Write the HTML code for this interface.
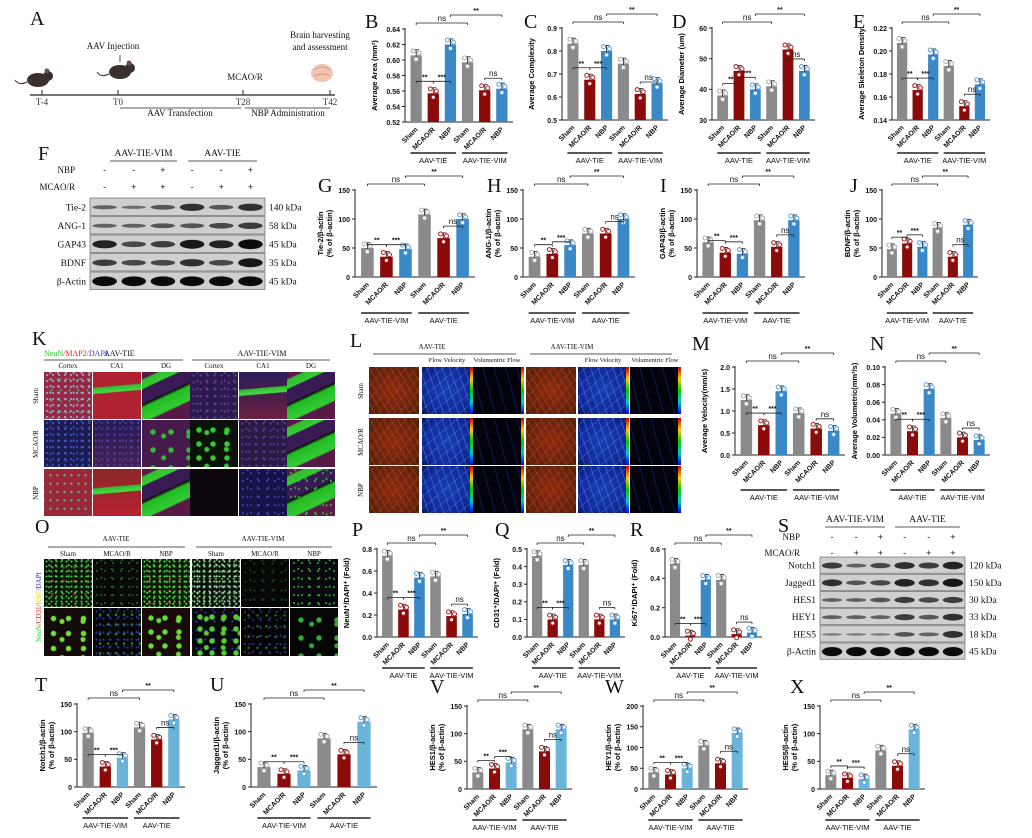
<!DOCTYPE html>
<html><head><meta charset="utf-8">
<style>
html,body{margin:0;padding:0;background:#fff;}
#w{position:relative;width:1032px;height:838px;overflow:hidden;background:#fff;font-family:"Liberation Sans",sans-serif;}
.im{position:absolute;box-sizing:border-box;}
svg{position:absolute;left:0;top:0;}
</style></head><body><div id="w"></div>
<script>
const W=document.getElementById('w');
function div(x,y,w,h,bg){const d=document.createElement('div');d.className='im';d.style.cssText=`left:${x}px;top:${y}px;width:${w}px;height:${h}px;background:${bg};`;W.appendChild(d);}
const dots=(c,s)=>`radial-gradient(circle,${c} 0.7px,transparent 1.3px) 0 0/${s}px ${s}px,radial-gradient(circle,${c} 0.7px,transparent 1.3px) ${s*0.4}px ${s*0.7}px/${s*1.3}px ${s*1.1}px`;
const dots2=(c,s)=>`radial-gradient(circle,${c} 0.8px,transparent 1.4px) 3px 2px/${s}px ${s*1.2}px`;
const blobs=(c,s)=>`radial-gradient(circle,${c} 2.2px,transparent 3.2px) 2px 3px/${s}px ${s}px,radial-gradient(circle,${c} 2px,transparent 3px) ${s*0.5}px ${s*0.3}px/${s*1.4}px ${s*1.2}px`;
const band=(base,p)=>`linear-gradient(175deg,transparent ${p-8}%,#3b3 ${p-6}%,#4d4 ${p+4}%,transparent ${p+6}%)`;
const dg=`linear-gradient(155deg,#5a1a48 0%,#5a1a48 10%,#3b3 12%,#3c3 24%,#3a1a55 26%,#3a1a55 45%,#111 48%,#2b2 52%,#3c3 72%,#5a1a48 75%)`;
/* K panel */
const kx=[44,93,142,190,239,287],ky=[372,420,469];
const K=[
 [`${dots('#8bd',6)},${dots2('#3a6',9)},#9a2844`,`${band('',38)},#b02232`,dg,`${dots('#748',7)},#2a1a50`,`${band('',42)},linear-gradient(#2a1c5a,#6a2040)`,dg],
 [`${dots('#45d',6)},#1c1c50`,`${dots('#44a',6)},linear-gradient(#261a58,#482050)`,`${blobs('#3b3',18)},#461a4c`,`${blobs('#3c3',14)},#0a120a`,`${dots('#54a',7)},#2c1a44`,dg],
 [`${dots2('#6b8',7)},#9a2838`,`${band('',45)},linear-gradient(#8a2828,#b82030)`,dg,`#0e080e`,`${dots('#44b',8)},#141448`,`${dots('#3b3',8)},${dg}`]];
for(let r=0;r<3;r++)for(let c=0;c<6;c++)div(kx[c],ky[r],48,47,K[r][c]);
/* L panel */
const lx=[369,422,473,526,578,630],ly=[367,418,466];
const cb='linear-gradient(#c00,#fc0,#0c0,#0cc,#00f)';
for(let r=0;r<3;r++)for(let c=0;c<6;c++){
 const t=c%3;let bg;
 if(t==0)bg=`repeating-linear-gradient(60deg,transparent 0 5px,rgba(230,90,30,.35) 5px 6px),repeating-linear-gradient(-50deg,transparent 0 7px,rgba(220,70,20,.3) 7px 8px),radial-gradient(ellipse at 50% 50%,#8a2a10,#6a2410 60%,#4a2008)`;
 else if(t==1)bg=`repeating-linear-gradient(70deg,transparent 0 6px,rgba(120,170,255,.35) 6px 7px),repeating-linear-gradient(-40deg,transparent 0 8px,rgba(100,150,255,.3) 8px 9px),radial-gradient(ellipse,#1840b0,#10289a 70%,#0a1860)`;
 else bg=`repeating-linear-gradient(75deg,transparent 0 10px,rgba(40,60,200,.35) 10px 11px),#03030c`;
 div(lx[c],ly[r],50,47,bg);
 if(t>0)div(lx[c]+48,ly[r],3,47,cb);
}
/* O panel */
const ox=[44,93,142,192,241,290];
const Otop=[`${dots('#4c4',5)},${dots2('#c33',11)},#0a160a`,`${dots('#262',8)},#080a08`,`${dots('#4d4',5)},${dots2('#c44',10)},#101a0a`,`${dots('#aca',5)},${dots2('#4b4',6)},#0a140a`,`${dots('#242',9)},#050805`,`${dots('#3a3',8)},#08080e`];
const Obot=[`${blobs('#7d3',15)},#140c0a`,`${dots('#33a',7)},${dots2('#2a2',8)},#060806`,`${blobs('#6d3',14)},#1a0a0a`,`${blobs('#5c3',12)},${dots('#33c',9)},#0a0a0a`,`${dots('#338',8)},${dots2('#282',9)},#050505`,`${blobs('#3a3',18)},#060606`];
for(let c=0;c<6;c++){div(ox[c],559,48,48,Otop[c]);div(ox[c],608,48,48,Obot[c]);}

/* SVG overlay */
let s='';
const T=(x,y,t,o={})=>{s+=`<text x="${x}" y="${y}" font-size="${o.fs||8}" font-family="${o.ff||'Liberation Sans'}" ${o.b?'font-weight="bold"':''} text-anchor="${o.a||'start'}" fill="${o.c||'#111'}" ${o.r!=null?`transform="rotate(${o.r} ${x} ${y})"`:''}>${t}</text>`;};
const L=(x1,y1,x2,y2,w=0.8,c='#222')=>{s+=`<line x1="${x1}" y1="${y1}" x2="${x2}" y2="${y2}" stroke="${c}" stroke-width="${w}"/>`;};
const R=(x,y,w,h,f,st='')=>{s+=`<rect x="${x}" y="${y}" width="${w}" height="${h}" fill="${f}" ${st}/>`;};
const serif='Liberation Serif';
[['A',30,25],['B',365,28],['C',524,28],['D',672,28],['E',853,28],['F',38,160],['G',318,192],['H',487,192],['I',660,192],['J',850,192],['K',32,345],['L',350,347],['M',692,350],['N',870,350],['O',35,533],['P',352,536],['Q',495,536],['R',630,536],['S',778,532],['T',35,691],['U',210,691],['V',430,693],['W',605,693],['X',790,693]].forEach(a=>T(a[1],a[2],a[0],{fs:20,ff:serif}));
/* Panel A */
L(30,95,335,95,1.2);
[[42,'T-4'],[118,'T0'],[243,'T28'],[330,'T42']].forEach(a=>{L(a[0],90,a[0],95,1);T(a[0],105,a[1],{fs:9,ff:serif,a:'middle',c:'#333'});});
function mouse(x,y){s+=`<ellipse cx="${x}" cy="${y}" rx="11" ry="7" fill="#3a3030"/><circle cx="${x+10}" cy="${y-4}" r="5" fill="#3a3030"/><circle cx="${x+9}" cy="${y-9}" r="2.5" fill="#6a5050"/><path d="M${x-11} ${y+2} q-8 4 -12 -2" stroke="#3a3030" fill="none"/>`;}
mouse(38,80);mouse(120,72);
T(113,49,'AAV Injection',{fs:9,ff:serif,a:'middle'});
L(120,55,120,62,0.8);
T(245,80,'MCAO/R',{fs:9,ff:serif,a:'middle'});
T(320,38,'Brain harvesting',{fs:9,ff:serif,a:'middle'});
T(320,50,'and assessment',{fs:9,ff:serif,a:'middle'});
s+=`<ellipse cx="322" cy="73" rx="11" ry="9" fill="#f3c4b0"/><path d="M314 70 q8 -6 16 0 M314 76 q8 -4 16 0" stroke="#d89a88" fill="none"/>`;
L(120,108,241,108,0.8);T(180,116,'AAV Transfection',{fs:9,ff:serif,a:'middle'});
L(245,108,330,108,0.8);T(288,116,'NBP Administration',{fs:9,ff:serif,a:'middle'});
/* blots */
function blot(x0,x1,y0,rh,rows,grp,sy,lx){
 const lw=(x1-x0)/6;
 rows.forEach((r,i)=>{const y=y0+i*rh;R(x0,y,x1-x0,rh-1,'#cfcfcf','stroke="#555" stroke-width="0.6"');
  for(let k=0;k<6;k++){const it=r[2][k];s+=`<ellipse cx="${x0+lw*(k+0.5)}" cy="${y+rh/2}" rx="${lw*0.42}" ry="${rh*0.22*it+0.8}" fill="#000" opacity="${0.35+0.6*it}"/>`;}
  T(x0-4,y+rh/2+3,r[0],{fs:9.5,ff:serif,a:'end'});T(x1+4,y+rh/2+3,r[1],{fs:9.5,ff:serif});});
 grp.forEach(g=>{T((g[1]+g[2])/2,sy[0],g[0],{fs:9.5,ff:serif,a:'middle'});L(g[1],sy[0]+5,g[2],sy[0]+5,0.8);});
 T(lx,sy[1],'NBP',{fs:9,ff:serif,a:'end'});T(lx,sy[2],'MCAO/R',{fs:9,ff:serif,a:'end'});
 const nb=['-','-','+','-','-','+'],mc=['-','+','+','-','+','+'];
 for(let k=0;k<6;k++){T(x0+lw*(k+0.5),sy[1],nb[k],{fs:9,a:'middle'});T(x0+lw*(k+0.5),sy[2],mc[k],{fs:9,a:'middle'});}
}
blot(90,265,198,18.5,[['Tie-2','140 kDa',[.3,.2,.4,.7,.4,.7]],['ANG-1','58 kDa',[.3,.3,.4,.4,.5,.6]],['GAP43','45 kDa',[.8,.5,.6,.9,.8,1]],['BDNF','35 kDa',[.6,.5,.5,.7,.5,.9]],['β-Actin','45 kDa',[1,1,1,1,1,1]]],[['AAV-TIE-VIM',110,177],['AAV-TIE',188,257]],[156,173,190],75);
blot(820,965,557,17.2,[['Notch1','120 kDa',[.6,.3,.5,.7,.6,.8]],['Jagged1','150 kDa',[.7,.4,.5,.8,.7,.9]],['HES1','30 kDa',[.3,.3,.4,.6,.5,.6]],['HEY1','33 kDa',[.3,.3,.3,.6,.4,.7]],['HES5','18 kDa',[.1,.1,.1,.4,.3,.7]],['β-Actin','45 kDa',[1,1,1,1,1,1]]],[['AAV-TIE-VIM',825,885],['AAV-TIE',895,960]],[522,540,556],800);
/* K/L/O headers */
s+=`<text x="44" y="356" font-size="8" font-family="Liberation Serif"><tspan fill="#2c2">NeuN</tspan><tspan fill="#e22">/MAP2/</tspan><tspan fill="#33c">DAPI</tspan></text>`;
T(104,356,'AAV-TIE',{fs:8,ff:serif});L(44,360,183,360);T(262,356,'AAV-TIE-VIM',{fs:8,ff:serif,a:'middle'});L(192,360,330,360);
['Cortex','CA1','DG','Cortex','CA1','DG'].forEach((t,i)=>T(kx[i]+24,368,t,{fs:7,ff:serif,a:'middle'}));
['Sham','MCAO/R','NBP'].forEach((t,i)=>T(38,ky[i]+24,t,{fs:7,ff:serif,a:'middle',r:-90}));
T(432,349,'AAV-TIE',{fs:7,ff:serif,a:'middle'});L(373,354,516,354);T(572,349,'AAV-TIE-VIM',{fs:7,ff:serif,a:'middle'});L(530,354,672,354);
[[447,'Flow Velocity'],[497,'Volumentric Flow'],[603,'Flow Velocity'],[655,'Volumentric Flow']].forEach(a=>T(a[0],362,a[1],{fs:6.5,ff:serif,a:'middle'}));
['Sham','MCAO/R','NBP'].forEach((t,i)=>T(363,ly[i]+24,t,{fs:7,ff:serif,a:'middle',r:-90}));
T(116,541,'AAV-TIE',{fs:7,ff:serif,a:'middle'});L(48,547,185,547);T(263,541,'AAV-TIE-VIM',{fs:7,ff:serif,a:'middle'});L(196,547,332,547);
['Sham','MCAO/R','NBP','Sham','MCAO/R','NBP'].forEach((t,i)=>T(ox[i]+24,556,t,{fs:7,ff:serif,a:'middle'}));
s+=`<text x="41" y="607" font-size="7" font-family="Liberation Serif" text-anchor="middle" transform="rotate(-90 41 607)"><tspan fill="#2c2">NeuN</tspan><tspan fill="#e22">/CD31/</tspan><tspan fill="#cc2">Ki67</tspan><tspan fill="#33c">/DAPI</tspan></text>`;
/* charts */
const GR='#8a8a8a',RD='#8b0b0b',BL='#3a88c6',LB='#6ab4da';
function chart(o){
 const slot=(o.x1-o.x0)/6.3,bw=slot*0.66;
 const cols=[GR,RD,o.lb?LB:BL,GR,RD,o.lb?LB:BL];
 const Y=v=>o.yb-(v-o.min)/(o.max-o.min)*(o.yb-o.yt);
 L(o.x0,o.yt-1,o.x0,o.yb,1);L(o.x0,o.yb,o.x1,o.yb,1);
 for(let v=o.min;v<=o.max+1e-9;v+=o.step){const y=Y(v);L(o.x0-3,y,o.x0,y,1);T(o.x0-5,y+2.8,v.toFixed(o.dec),{fs:7,b:1,a:'end'});}
 s+=`<text x="${o.x0-28}" y="${(o.yt+o.yb)/2}" font-size="7.5" font-weight="bold" font-family="Liberation Sans" text-anchor="middle" transform="rotate(-90 ${o.x0-28} ${(o.yt+o.yb)/2})">${o.yl.map((t,k)=>`<tspan x="${o.x0-28}" dy="${k?9:(o.yl.length>1?-4:0)}">${t}</tspan>`).join('')}</text>`;
 const cx=[];
 o.v.forEach((v,i)=>{const c=o.x0+slot*(i+0.65);cx.push(c);const y=Y(v);R(c-bw/2,y,bw,o.yb-y,cols[i]);
  const e=(o.yb-o.yt)*0.06;L(c,y-e,c,y+e,0.8);L(c-3,y-e,c+3,y-e,0.8);
  [[-3,-e*0.8],[3,-e*0.4],[0,e*0.7]].forEach(p=>s+=`<circle cx="${c+p[0]}" cy="${y+p[1]}" r="2" fill="#fff" stroke="${i%3==1?'#b02020':(i%3==2?'#5aa0e0':'#aaa')}" stroke-width="1"/>`);
  T(c+2,o.yb+8,['Sham','MCAO/R','NBP'][i%3],{fs:7,b:1,a:'end',r:-45});});
 const gl=o.gl;
 L(cx[0]-bw/2,gl,cx[2]+bw/2,gl,1.6);L(cx[3]-bw/2,gl,cx[5]+bw/2,gl,1.6);
 T((cx[0]+cx[2])/2,gl+10,o.g[0],{fs:7.5,a:'middle'});T((cx[3]+cx[5])/2,gl+10,o.g[1],{fs:7.5,a:'middle'});
 [[0,1,0,'**'],[1,2,1,'***'],[0,3,2,'ns'],[2,5,3,'**'],[4,5,0,'ns']].forEach(b=>{
  const y=Math.max(...o.v.slice(Math.min(b[0],b[1]),b[1]+1).map(Y))-12;const yy=b[2]>=2?o.yt-6-(b[2]-2)*8:y;
  L(cx[b[0]],yy,cx[b[1]],yy,0.8);L(cx[b[0]],yy,cx[b[0]],yy+2,0.8);L(cx[b[1]],yy,cx[b[1]],yy+2,0.8);
  T((cx[b[0]]+cx[b[1]])/2,yy-2,b[3],{fs:b[3]=='ns'?8:7,b:b[3]!='ns',a:'middle'});
 });
}
const G1=['AAV-TIE','AAV-TIE-VIM'],G2=['AAV-TIE-VIM','AAV-TIE'];
chart({x0:405,x1:513,yt:29,yb:122,min:.52,max:.64,step:.02,dec:2,v:[.606,.557,.620,.597,.561,.563],yl:['Average Area (mm²)'],g:G1,gl:153});
chart({x0:562,x1:668,yt:28,yb:120,min:.5,max:.9,step:.1,dec:1,v:[.832,.675,.80,.745,.613,.66],yl:['Average Complexity'],g:G1,gl:153});
chart({x0:712,x1:815,yt:28,yb:120,min:30,max:60,step:10,dec:0,v:[38,46,40,41,53,46],yl:['Average Diameter (um)'],g:G1,gl:153});
chart({x0:892,x1:990,yt:28,yb:120,min:.14,max:.22,step:.02,dec:2,v:[.207,.166,.197,.187,.152,.171],yl:['Average Skeleton Density'],g:G1,gl:153});
chart({x0:355,x1:475,yt:190,yb:277,min:0,max:150,step:50,dec:0,v:[50,35,48,108,67,100],yl:['Tie-2/β-actin','(% of β-actin)'],g:G2,gl:313});
chart({x0:523,x1:635,yt:190,yb:277,min:0,max:150,step:50,dec:0,v:[35,40,55,75,75,100],yl:['ANG-1/β-actin','(% of β-actin)'],g:G2,gl:313});
chart({x0:697,x1:805,yt:190,yb:277,min:0,max:150,step:50,dec:0,v:[60,42,40,98,52,98],yl:['GAP43/β-actin','(% of β-actin)'],g:G2,gl:313});
chart({x0:882,x1:978,yt:190,yb:277,min:0,max:150,step:50,dec:0,v:[48,58,52,85,35,90],yl:['BDNF/β-actin','(% of β-actin)'],g:G2,gl:313});
chart({x0:735,x1:845,yt:367,yb:455,min:0,max:2,step:.5,dec:1,v:[1.25,.68,1.45,.95,.6,.55],yl:['Average Velocity(mm/s)'],g:G1,gl:490});
chart({x0:885,x1:990,yt:367,yb:455,min:0,max:.1,step:.02,dec:2,v:[.047,.027,.075,.042,.02,.017],yl:['Average Volumetric(mm³/s)'],g:G1,gl:490});
chart({x0:377,x1:478,yt:549,yb:637,min:0,max:.8,step:.2,dec:1,v:[.74,.25,.54,.55,.19,.21],yl:['NeuN⁺/DAPI⁺ (Fold)'],g:G1,gl:668});
chart({x0:527,x1:625,yt:549,yb:637,min:0,max:.5,step:.1,dec:1,v:[.46,.1,.41,.41,.1,.1],yl:['CD31⁺/DAPI⁺ (Fold)'],g:G1,gl:668});
chart({x0:665,x1:762,yt:549,yb:637,min:0,max:.6,step:.2,dec:1,v:[.5,.01,.39,.39,.02,.03],yl:['Ki67⁺/DAPI⁺ (Fold)'],g:G1,gl:668});
chart({x0:77,x1:185,yt:704,yb:787,min:0,max:150,step:50,dec:0,v:[98,37,53,108,86,122],yl:['Notch1/β-actin','(% of β-actin)'],g:G2,gl:818,lb:1});
chart({x0:251,x1:377,yt:704,yb:787,min:0,max:150,step:50,dec:0,v:[36,24,30,88,59,118],yl:['Jagged1/β-actin','(% of β-actin)'],g:G2,gl:818,lb:1});
chart({x0:467,x1:572,yt:706,yb:789,min:0,max:150,step:50,dec:0,v:[30,37,48,108,68,108],yl:['HES1/β-actin','(% of β-actin)'],g:G2,gl:820,lb:1});
chart({x0:643,x1:748,yt:706,yb:789,min:0,max:200,step:50,dec:0,v:[40,35,50,105,62,135],yl:['HEY1/β-actin','(% of β-actin)'],g:G2,gl:820,lb:1});
chart({x0:820,x1:925,yt:706,yb:789,min:0,max:150,step:50,dec:0,v:[25,20,18,70,42,108],yl:['HES5/β-actin','(% of β-actin)'],g:G2,gl:820,lb:1});
const sv=document.createElementNS('http://www.w3.org/2000/svg','svg');
sv.setAttribute('width','1032');sv.setAttribute('height','838');sv.setAttribute('viewBox','0 0 1032 838');
sv.innerHTML=s;W.appendChild(sv);
</script></body></html>
